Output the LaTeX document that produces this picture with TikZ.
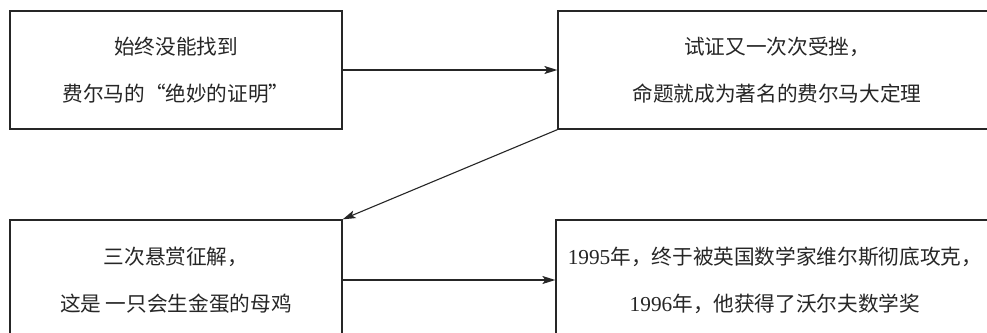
\documentclass[tikz,border=0pt]{standalone}
\usepackage{fontspec}
\setmainfont{Liberation Serif}
\newfontfamily\cjk{Noto Sans CJK SC}[Scale=0.97]
\usetikzlibrary{arrows.meta}
\begin{document}
\begin{tikzpicture}[x=1pt,y=-1pt,
  box/.style={draw=black!85,line width=1.3pt,rectangle,inner sep=0pt,align=center,
    text=black!85,font=\fontsize{21.3}{47}\selectfont},
  conn/.style={draw=black!85,line width=1.1pt,-{Stealth[length=13pt,width=8pt,inset=3pt]}}]
\clip (0,0) rectangle (987,332);
\fill[white] (0,0) rectangle (987,332);
\node[box,minimum width=332pt,minimum height=118pt] (a) at (176,70)
  {{\cjk 始终没能找到}\\{\cjk 费尔马的“绝妙的证明”}};
\node[box,minimum width=438pt,minimum height=118pt] (b) at (777,70)
  {{\cjk 试证又一次次受挫，}\\{\cjk 命题就成为著名的费尔马大定理}};
\node[box,minimum width=332pt,minimum height=120pt] (c) at (176,280)
  {{\cjk 三次悬赏征解，}\\{\cjk 这是 一只会生金蛋的母鸡}};
\node[box,minimum width=438pt,minimum height=120pt] (d) at (775,280)
  {1995{\cjk 年，终于被英国数学家维尔斯彻底攻克，}\\1996{\cjk 年，他获得了沃尔夫数学奖}};
\draw[conn] (a.east) -- (b.west);
\draw[conn] (b.south west) -- (c.north east);
\draw[conn] (c.east) -- (d.west);
\end{tikzpicture}
\end{document}
